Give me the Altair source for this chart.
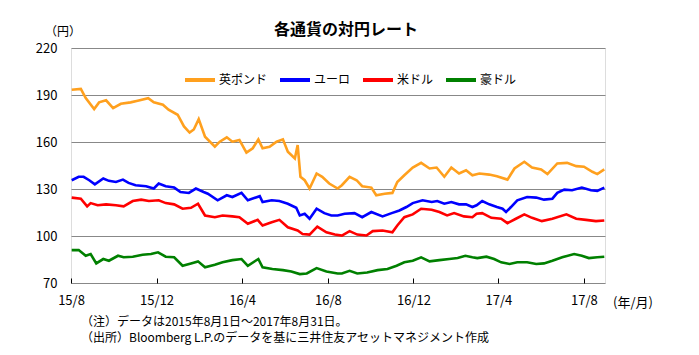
import altair as alt
import pandas as pd

START = "2015-08-01"

# day offsets from 2015-08-01 and rates (JPY)
gbp_days = [1, 14, 21, 33, 40, 50, 60, 71, 85, 95, 110, 118, 131, 139, 152, 161, 169, 175, 182, 191,
            205, 212, 222, 230, 240, 250, 259, 267, 273, 283, 293, 302, 309, 319, 323, 327, 333, 340,
            350, 358, 368, 380, 386, 397, 407, 415, 428, 435, 447, 458, 465, 475, 487, 499, 511, 521,
            532, 542, 553, 563, 572, 582, 596, 607, 622, 632, 646, 657, 670, 679, 693, 707, 720, 731,
            743, 750, 760]
gbp_vals = [193.4, 193.9, 188.0, 181.0, 185.3, 186.6, 181.6, 184.4, 185.3, 186.4, 188.0, 185.3, 183.8,
            180.6, 177.4, 169.9, 166.0, 168.0, 174.6, 163.4, 157.0, 160.2, 163.0, 160.2, 161.3, 153.2,
            156.0, 161.7, 156.0, 157.0, 160.2, 161.7, 153.8, 149.5, 158.0, 137.8, 135.6, 130.3, 139.9,
            137.8, 133.5, 130.3, 132.4, 137.8, 135.6, 131.8, 130.9, 126.0, 127.0, 127.5, 134.5, 138.8,
            143.7, 146.7, 143.1, 143.7, 137.8, 143.7, 139.9, 142.0, 138.8, 139.9, 139.2, 138.2, 136.0,
            143.1, 147.4, 143.7, 142.5, 139.5, 146.3, 146.7, 144.6, 144.2, 141.0, 139.5, 142.5]

eur_days = [1, 11, 18, 26, 34, 46, 54, 64, 74, 82, 92, 107, 118, 125, 135, 147, 156, 168, 178, 189,
            195, 209, 222, 230, 243, 252, 269, 273, 286, 297, 309, 321, 326, 333, 340, 350, 361, 371,
            380, 390, 404, 415, 428, 444, 457, 468, 478, 487, 501, 514, 522, 532, 542, 553, 563, 572,
            578, 586, 596, 607, 615, 620, 627, 636, 650, 663, 674, 686, 693, 703, 714, 728, 741, 750, 760]
eur_vals = [135.6, 137.8, 137.8, 135.6, 133.0, 136.7, 135.2, 134.5, 136.0, 133.9, 132.4, 131.8, 130.3,
            133.5, 131.8, 130.9, 128.1, 127.5, 130.3, 128.1, 127.0, 122.8, 126.0, 124.9, 127.5, 122.8,
            125.4, 121.7, 122.8, 122.3, 120.6, 118.0, 113.1, 114.2, 111.0, 117.4, 114.6, 113.1, 113.1,
            114.2, 114.6, 112.0, 115.3, 112.5, 114.6, 116.3, 118.5, 121.0, 122.8, 121.7, 122.3, 120.6,
            121.7, 120.2, 120.2, 118.5, 119.6, 122.3, 120.2, 118.5, 117.4, 115.3, 118.5, 122.8, 124.9,
            124.5, 123.2, 123.8, 127.5, 129.6, 129.2, 130.9, 129.2, 128.8, 130.9]

usd_days = [1, 14, 23, 28, 38, 50, 64, 75, 88, 100, 111, 125, 135, 147, 159, 171, 181, 191, 205, 216,
            230, 240, 252, 266, 273, 286, 297, 309, 323, 330, 340, 351, 364, 376, 386, 397, 408, 421,
            430, 444, 458, 465, 475, 487, 499, 514, 525, 536, 546, 560, 572, 578, 586, 599, 613, 622,
            634, 646, 657, 671, 686, 706, 720, 734, 748, 760]
usd_vals = [124.5, 123.8, 118.9, 121.0, 119.6, 120.2, 119.6, 118.9, 122.3, 123.2, 122.3, 122.8, 121.0,
            120.2, 117.4, 118.0, 120.6, 113.1, 112.0, 113.1, 112.5, 112.0, 107.8, 110.3, 106.7, 108.8,
            110.3, 105.6, 103.5, 101.3, 100.9, 106.0, 102.4, 100.9, 100.3, 103.1, 100.9, 100.3, 103.1,
            103.5, 102.4, 106.7, 112.0, 113.8, 117.4, 116.8, 115.3, 113.1, 114.6, 112.5, 112.0, 114.2,
            114.6, 111.6, 111.0, 108.2, 111.0, 113.8, 111.6, 109.5, 111.0, 113.8, 111.0, 110.3, 109.5,
            109.9]

aud_days = [1, 11, 21, 28, 36, 46, 54, 67, 75, 88, 102, 114, 124, 135, 147, 159, 171, 181, 191, 205,
            216, 230, 243, 252, 267, 273, 287, 302, 314, 326, 336, 350, 364, 380, 386, 397, 408, 422,
            437, 451, 464, 475, 487, 499, 511, 525, 539, 551, 562, 572, 579, 592, 603, 613, 625, 636,
            650, 663, 674, 686, 700, 717, 728, 738, 750, 760]
aud_vals = [91.0, 91.0, 87.4, 88.5, 82.5, 85.3, 84.2, 87.4, 86.4, 86.8, 88.0, 88.5, 89.6, 86.8, 86.4,
            81.0, 82.5, 83.8, 80.0, 81.6, 83.2, 84.6, 85.3, 81.0, 85.3, 80.0, 78.9, 78.2, 77.4, 75.7,
            76.1, 79.5, 77.4, 76.1, 76.1, 77.8, 76.1, 76.7, 78.2, 78.9, 81.0, 83.2, 84.2, 86.4, 83.8,
            84.6, 85.3, 85.9, 87.4, 86.4, 85.9, 86.8, 85.3, 83.2, 82.1, 83.2, 83.2, 82.1, 82.5, 84.2,
            86.4, 88.5, 87.4, 85.9, 86.4, 86.8]

currencies = ["英ポンド", "ユーロ", "米ドル", "豪ドル"]
colors = ["#FFA01E", "#0000FF", "#FF0000", "#008000"]

x_tick_dates = ["2015-08-01", "2015-12-01", "2016-04-01", "2016-08-01",
                "2016-12-01", "2017-04-01", "2017-08-01"]
x_domain = ["2015-08-01", "2017-08-31"]
y_ticks = [70, 100, 130, 160, 190, 220]

title_text = "各通貨の対円レート"
y_unit = "（円）"
x_unit = "(年/月)"
notes = ["（注）データは2015年8月1日～2017年8月31日。",
         "（出所）Bloomberg L.P.のデータを基に三井住友アセットマネジメント作成"]

FONT = "Noto Sans CJK JP"


def build(name, days, vals):
    d = pd.Timestamp(START) + pd.to_timedelta(days, unit="D")
    return pd.DataFrame({"date": d.strftime("%Y-%m-%d"), "rate": vals, "currency": name})


df = pd.concat([
    build(currencies[0], gbp_days, gbp_vals),
    build(currencies[1], eur_days, eur_vals),
    build(currencies[2], usd_days, usd_vals),
    build(currencies[3], aud_days, aud_vals),
], ignore_index=True)


def ms(s):
    return int(pd.Timestamp(s).value // 10**6)


x_scale = alt.Scale(type="utc", domain=[ms(x_domain[0]), ms(x_domain[1])])

lines = alt.Chart(df).mark_line(strokeWidth=2.6, clip=True).encode(
    x=alt.X("date:T", scale=x_scale,
            axis=alt.Axis(values=[ms(s) for s in x_tick_dates],
                          labelExpr="utcFormat(datum.value, '%y/%-m')",
                          title=None, grid=False, domain=False,
                          ticks=True, tickSize=5, tickColor="#000000", tickWidth=1,
                          offset=-5, labelPadding=11, labelFontSize=13,
                          labelFont=FONT, labelColor="#000000",
                          labelFlush=False, labelOverlap=False)),
    y=alt.Y("rate:Q", scale=alt.Scale(domain=[70, 220], nice=False, zero=False),
            axis=alt.Axis(values=y_ticks, title=None, domain=False, ticks=False,
                          grid=True, gridColor="#888888", gridWidth=1,
                          labelPadding=14, labelFontSize=13, labelFont=FONT,
                          labelColor="#000000")),
    color=alt.Color("currency:N",
                    scale=alt.Scale(domain=currencies, range=colors),
                    sort=currencies,
                    legend=alt.Legend(orient="none", legendX=112, legendY=15,
                                      direction="horizontal", title=None,
                                      symbolType="stroke", symbolSize=900,
                                      symbolStrokeWidth=4, labelFontSize=12,
                                      labelFont=FONT, labelColor="#000000",
                                      labelOffset=2, columnPadding=4)),
)


def label(text, x, y, size=12, align="left", weight="normal"):
    return alt.Chart(pd.DataFrame({"t": [text]})).mark_text(
        font=FONT, fontSize=size, align=align, baseline="middle",
        color="#000000", fontWeight=weight
    ).encode(text="t:N", x=alt.value(x), y=alt.value(y))


title_mark = label(title_text, 275, -18, size=16, align="center", weight="bold")
y_unit_text = label(y_unit, -8, -16, size=12, align="center")
x_unit_text = label(x_unit, 562, 255, size=13, align="center")
note1 = label(notes[0], 10, 274, size=12)
note2 = label(notes[1], 10, 290, size=12)

chart = alt.layer(lines, title_mark, y_unit_text, x_unit_text, note1, note2).properties(
    width=534, height=235,
    autosize=alt.AutoSizeParams(type="none"),
    padding={"left": 63, "top": 40, "right": 80, "bottom": 64},
).configure_view(stroke="#000000", strokeWidth=1).configure(background="#FFFFFF")

chart.save("out.html", embed_options={"renderer": "svg", "actions": False})
